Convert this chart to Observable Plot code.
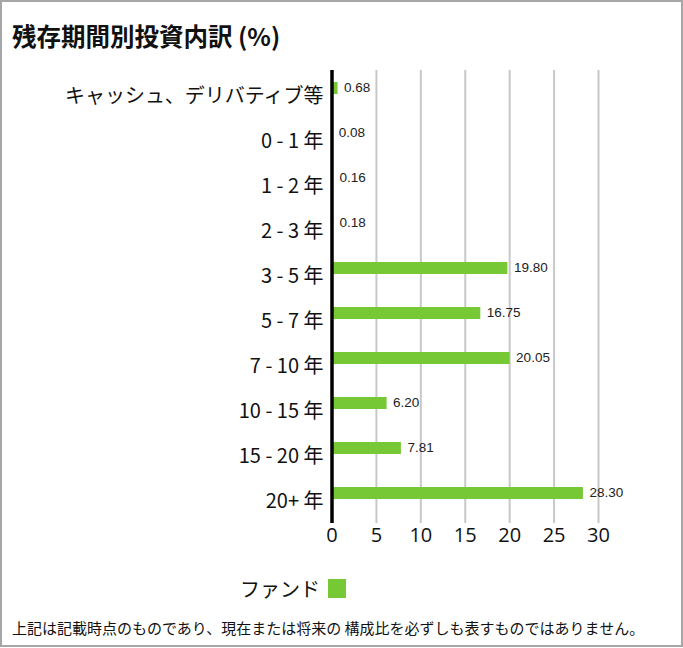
<!DOCTYPE html>
<html><head><meta charset="utf-8">
<script src="https://cdn.jsdelivr.net/npm/d3@7"></script>
<script src="https://cdn.jsdelivr.net/npm/@observablehq/plot@0.6"></script>
<style>
html,body{margin:0;padding:0;background:#fff;}
#wrap{box-sizing:border-box;width:683px;height:647px;border:2px solid #a6a6a6;font-family:"Noto Sans CJK JP","Noto Sans",sans-serif;color:#111;position:relative;overflow:hidden;}
#title{box-sizing:border-box;height:56px;padding:20px 0 0 10px;line-height:28px;font-size:24.5px;font-weight:bold;}
#legend{display:flex;align-items:center;justify-content:flex-start;padding-left:238px;margin-top:20px;height:20px;font-size:20px;}
#legend .sw{display:inline-block;width:18px;height:19px;background:#76c935;margin-left:8px;}
#note{margin-top:20px;padding-left:10px;font-size:15px;line-height:20px;}
svg{display:block;}
</style></head>
<body>
<div id="wrap">
<div id="title">残存期間別投資内訳 (%)</div>
<div id="chart"></div>
<div id="legend"><span>ファンド</span><span class="sw"></span></div>
<div id="note">上記は記載時点のものであり、現在または将来の 構成比を必ずしも表すものではありません。</div>
</div>
<script>
const categories = ["キャッシュ、デリバティブ等","0 - 1 年","1 - 2 年","2 - 3 年","3 - 5 年","5 - 7 年","7 - 10 年","10 - 15 年","15 - 20 年","20+ 年"];
const values = [0.68, 0.08, 0.16, 0.18, 19.80, 16.75, 20.05, 6.20, 7.81, 28.30];
const xTicks = [0, 5, 10, 15, 20, 25, 30];
const seriesName = "ファンド";
const barColor = "#76c935";

const data = categories.map((c, i) => ({category: c, value: values[i]}));

const chart = Plot.plot({
  width: 679,
  height: 500,
  marginLeft: 329.5,
  marginRight: 83,
  marginTop: 12,
  marginBottom: 35,
  style: {fontFamily: '"Noto Sans CJK JP","Noto Sans",sans-serif', background: "#fff"},
  x: {domain: [0, 30], ticks: xTicks},
  y: {domain: categories, range: [7.5, 457.5], paddingInner: 33/45, paddingOuter: 33/90, label: null},
  marks: [
    Plot.ruleX(xTicks.filter(d => d > 0), {stroke: "#c8c8c8", strokeWidth: 2, strokeOpacity: 1}),
    Plot.barX(data, {x: "value", y: "category", fill: barColor}),
    Plot.ruleX([0], {stroke: "#000", strokeWidth: 3.5}),
    Plot.text(data, {x: "value", y: "category", text: d => d.value.toFixed(2), textAnchor: "start", dx: 6, dy: -1, fontSize: 13.5, fontFamily: '"Liberation Sans",Arial,sans-serif', fill: "#222"}),
    Plot.axisX({ticks: xTicks, tickSize: 0, tickPadding: 4, fontSize: 20, fontFamily: '"Open Sans",sans-serif', label: null, fill: "#111"}),
    Plot.axisY({tickSize: 0, tickPadding: 8.5, fontSize: 20, label: null, dy: 8, fill: "#111"})
  ]
});
document.getElementById("chart").appendChild(chart);
</script>
</body></html>
